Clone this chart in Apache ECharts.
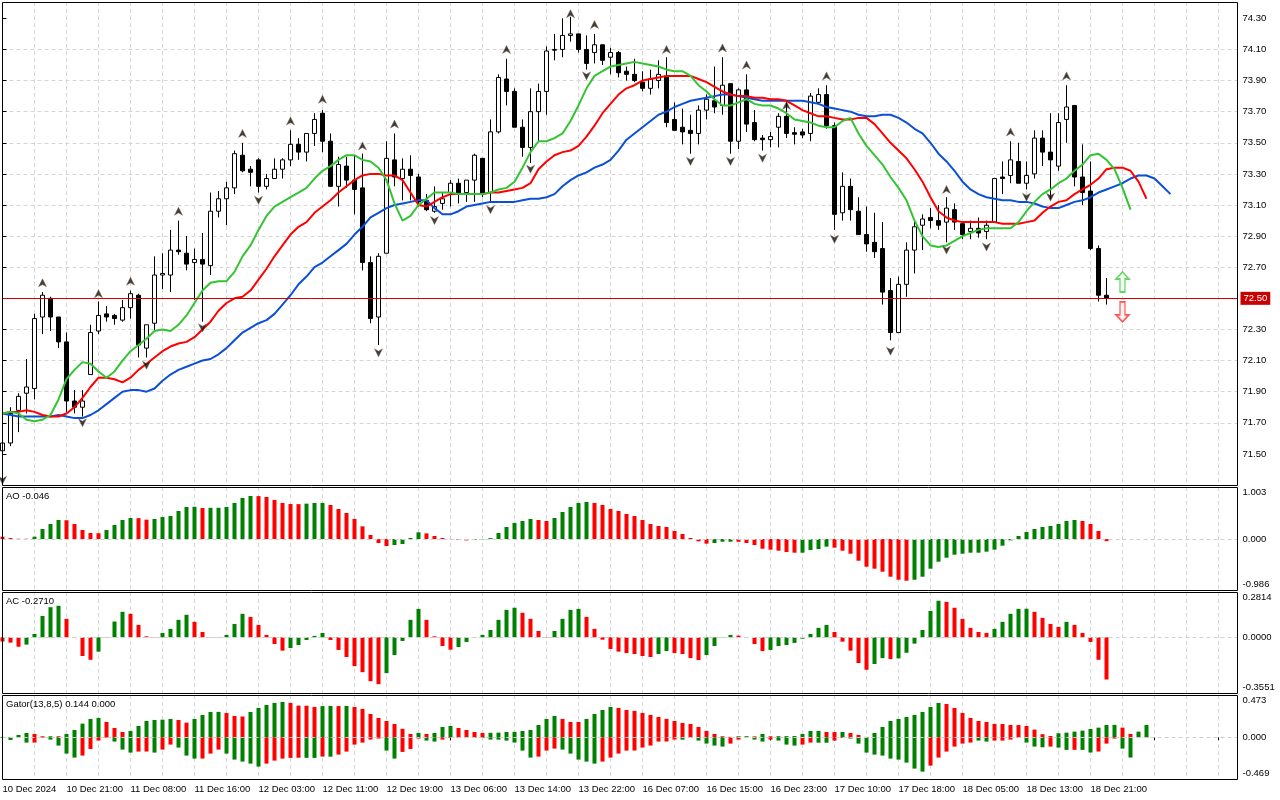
<!DOCTYPE html>
<html><head><meta charset="utf-8">
<script src="https://cdn.jsdelivr.net/npm/echarts/dist/echarts.min.js"></script>
<style>html,body{margin:0;padding:0;background:#fff}#c{width:1280px;height:800px}</style>
</head><body><div id="c"></div>
<script>
const timeLabels = ["10 Dec 2024","10 Dec 21:00","11 Dec 08:00","11 Dec 16:00","12 Dec 03:00","12 Dec 11:00","12 Dec 19:00","13 Dec 06:00","13 Dec 14:00","13 Dec 22:00","16 Dec 07:00","16 Dec 15:00","16 Dec 23:00","17 Dec 10:00","17 Dec 18:00","18 Dec 05:00","18 Dec 13:00","18 Dec 21:00"];
const priceTicks = [71.5,71.7,71.9,72.1,72.3,72.5,72.7,72.9,73.1,73.3,73.5,73.7,73.9,74.1,74.3];
const priceLabels = [71.5,71.7,71.9,72.1,72.3,72.7,72.9,73.1,73.3,73.5,73.7,73.9,74.1,74.3];
const lastPrice = 72.50;
// [open, close, low, high]
const ohlc = [
[71.52,71.57,71.49,71.58],[71.57,71.76,71.55,71.80],[71.78,71.87,71.64,71.89],[71.89,71.93,71.76,72.11],[71.92,72.37,71.85,72.40],
[72.38,72.52,72.27,72.54],[72.50,72.38,72.29,72.51],[72.38,72.22,72.18,72.38],[72.22,71.84,71.77,72.28],[71.84,71.80,71.76,71.91],
[71.80,71.84,71.74,71.91],[72.01,72.28,72.01,72.33],[72.29,72.39,72.27,72.48],[72.40,72.38,72.35,72.45],[72.39,72.37,72.33,72.40],
[72.36,72.44,72.35,72.49],[72.44,72.53,72.37,72.55],[72.52,72.20,72.12,72.53],[72.18,72.33,72.12,72.33],[72.34,72.65,72.29,72.77],
[72.65,72.66,72.56,72.79],[72.65,72.81,72.54,72.94],[72.81,72.80,72.78,73.00],[72.79,72.72,72.68,72.90],[72.73,72.75,72.49,72.82],
[72.75,72.72,72.35,72.92],[72.71,73.06,72.65,73.18],[73.06,73.14,73.02,73.19],[73.14,73.21,72.97,73.25],[73.21,73.43,73.17,73.45],
[73.42,73.32,73.31,73.50],[73.33,73.31,73.22,73.35],[73.39,73.22,73.18,73.40],[73.22,73.27,73.20,73.30],[73.27,73.33,73.27,73.40],
[73.33,73.39,73.27,73.40],[73.39,73.49,73.35,73.58],[73.49,73.44,73.39,73.53],[73.44,73.56,73.38,73.56],[73.56,73.65,73.48,73.69],
[73.69,73.51,73.44,73.71],[73.51,73.22,73.22,73.56],[73.22,73.36,73.09,73.41],[73.35,73.26,73.21,73.41],[73.26,73.20,73.04,73.42],
[73.21,72.73,72.68,73.43],[72.73,72.37,72.34,72.77],[72.38,72.77,72.20,72.79],[72.79,73.40,72.79,73.51],[73.39,73.28,73.22,73.56],
[73.27,73.33,73.13,73.40],[73.33,73.29,73.13,73.42],[73.28,73.12,73.09,73.30],[73.13,73.07,73.06,73.17],[73.06,73.09,73.05,73.22],
[73.11,73.14,73.07,73.18],[73.18,73.24,73.09,73.26],[73.24,73.17,73.11,73.27],[73.18,73.26,73.12,73.26],[73.26,73.42,73.12,73.43],
[73.40,73.17,73.15,73.40],[73.18,73.57,73.12,73.65],[73.57,73.92,73.56,73.94],[73.91,73.83,73.74,74.04],[73.83,73.60,73.60,73.85],
[73.60,73.47,73.41,73.65],[73.47,73.70,73.37,73.85],[73.70,73.83,73.51,73.88],[73.83,74.09,73.68,74.12],[74.095,74.10,74.03,74.20],
[74.10,74.19,74.05,74.30],[74.19,74.20,74.15,74.31],[74.20,74.10,74.08,74.20],[74.10,74.01,73.97,74.19],[74.08,74.13,74.01,74.20],
[74.13,74.03,74.00,74.13],[74.05,74.08,73.94,74.11],[74.08,73.95,73.92,74.09],[73.96,73.94,73.90,73.99],[73.94,73.90,73.89,74.04],
[73.89,73.85,73.83,73.96],[73.85,73.91,73.81,73.97],[73.90,73.94,73.85,74.03],[73.93,73.63,73.60,74.05],[73.65,73.58,73.58,73.76],
[73.60,73.57,73.49,73.72],[73.58,73.56,73.43,73.68],[73.56,73.71,73.49,73.74],[73.71,73.78,73.65,73.81],[73.77,73.73,73.69,73.99],
[73.74,73.87,73.68,74.05],[73.88,73.51,73.43,73.88],[73.51,73.84,73.46,73.85],[73.84,73.62,73.57,73.94],[73.63,73.52,73.51,73.71],
[73.53,73.52,73.45,73.55],[73.52,73.54,73.47,73.57],[73.60,73.67,73.47,73.69],[73.67,73.56,73.53,73.77],[73.565,73.555,73.49,73.60],
[73.57,73.55,73.53,73.59],[73.56,73.80,73.51,73.82],[73.76,73.81,73.75,73.85],[73.81,73.61,73.59,73.87],[73.61,73.04,72.94,73.63],
[73.05,73.22,73.00,73.31],[73.22,73.07,73.00,73.27],[73.06,72.91,72.91,73.15],[72.91,72.85,72.80,73.09],[72.86,72.80,72.76,73.05],
[72.82,72.54,72.46,72.99],[72.55,72.28,72.23,72.63],[72.28,72.59,72.28,72.64],[72.59,72.81,72.51,72.86],[72.81,72.96,72.66,73.00],
[72.97,73.01,72.81,73.04],[73.02,73.00,72.95,73.08],[73.00,72.97,72.94,73.10],[72.99,73.08,72.86,73.15],[73.07,72.99,72.94,73.11],
[72.98,72.91,72.88,72.99],[72.93,72.95,72.88,73.00],[72.95,72.92,72.89,73.02],[72.93,72.97,72.88,73.00],[72.99,73.27,72.99,73.27],
[73.28,73.27,73.17,73.38],[73.29,73.39,73.24,73.51],[73.38,73.24,73.24,73.50],[73.24,73.29,73.20,73.38],[73.30,73.53,73.27,73.58],
[73.53,73.44,73.35,73.58],[73.44,73.39,73.14,73.69],[73.35,73.63,73.32,73.69],[73.65,73.73,73.50,73.87],[73.74,73.28,73.22,73.74],
[73.28,73.18,73.10,73.49],[73.19,72.82,72.81,73.38],[72.82,72.52,72.48,72.84],[72.52,72.50,72.46,72.63]
];
const jaw = [71.76,71.75,71.74,71.74,71.74,71.74,71.74,71.75,71.74,71.73,71.73,71.75,71.78,71.82,71.86,71.90,71.91,71.91,71.90,71.92,71.97,72.01,72.04,72.06,72.08,72.10,72.11,72.14,72.18,72.23,72.28,72.31,72.34,72.36,72.40,72.46,72.52,72.59,72.64,72.70,
72.73,72.77,72.81,72.85,72.91,72.96,73.02,73.05,73.08,73.10,73.11,73.12,73.13,73.13,73.08,73.04,73.04,73.06,73.09,73.10,73.11,73.12,73.12,73.12,73.12,73.13,73.14,73.14,73.15,73.17,73.22,73.26,73.29,73.31,73.34,73.36,73.39,73.45,73.52,
73.56,73.60,73.64,73.68,73.70,73.73,73.75,73.77,73.78,73.79,73.80,73.81,73.81,73.80,73.79,73.78,73.77,73.77,73.77,73.77,73.77,73.77,73.76,73.75,73.73,73.72,73.71,73.70,73.68,73.67,73.67,73.68,73.68,73.66,73.63,73.59,73.56,73.50,73.43,
73.38,73.32,73.25,73.20,73.17,73.15,73.14,73.13,73.13,73.12,73.12,73.11,73.09,73.08,73.08,73.10,73.12,73.13,73.15,73.18,73.20,73.22,73.24,73.27,73.29,73.29,73.27,73.22,73.17];
const teeth = [71.76,71.77,71.77,71.78,71.77,71.75,71.74,71.74,71.76,71.80,71.86,71.93,71.99,71.99,71.98,71.96,71.99,72.04,72.08,72.12,72.16,72.19,72.21,72.22,72.25,72.30,72.35,72.42,72.47,72.50,72.51,72.55,72.62,72.69,72.77,72.84,72.91,72.96,72.99,73.05,
73.09,73.13,73.18,73.22,73.26,73.29,73.30,73.30,73.29,73.29,73.26,73.18,73.10,73.09,73.12,73.15,73.17,73.17,73.17,73.17,73.17,73.18,73.18,73.19,73.20,73.21,73.24,73.33,73.38,73.42,73.44,73.45,73.48,73.54,73.61,73.69,73.75,73.81,73.85,
73.87,73.90,73.91,73.92,73.93,73.93,73.93,73.93,73.91,73.89,73.86,73.83,73.81,73.80,73.80,73.79,73.79,73.78,73.78,73.77,73.74,73.71,73.69,73.67,73.67,73.66,73.65,73.65,73.66,73.66,73.62,73.56,73.50,73.45,73.40,73.33,73.25,73.15,73.06,
73.02,73.00,72.99,72.99,72.99,72.99,72.99,72.98,72.98,72.98,72.99,73.00,73.05,73.09,73.12,73.13,73.17,73.20,73.23,73.27,73.33,73.34,73.34,73.32,73.25,73.14];
const lips = [71.76,71.77,71.76,71.72,71.71,71.72,71.75,71.85,71.98,72.04,72.09,72.08,72.03,71.99,72.03,72.10,72.16,72.20,72.24,72.29,72.30,72.29,72.33,72.39,72.47,72.55,72.60,72.61,72.61,72.67,72.77,72.84,72.94,73.03,73.09,73.12,73.15,73.18,73.21,73.27,
73.32,73.35,73.39,73.42,73.42,73.39,73.38,73.34,73.26,73.11,73.00,73.03,73.10,73.14,73.18,73.18,73.18,73.17,73.17,73.17,73.17,73.18,73.20,73.21,73.25,73.34,73.44,73.51,73.51,73.53,73.56,73.64,73.74,73.85,73.93,73.96,73.99,74.00,74.01,
74.02,74.01,74.00,73.99,73.97,73.96,73.96,73.93,73.87,73.83,73.78,73.74,73.74,73.76,73.78,73.75,73.74,73.74,73.72,73.69,73.65,73.64,73.63,73.61,73.60,73.60,73.64,73.66,73.56,73.48,73.42,73.36,73.28,73.21,73.13,73.00,72.90,72.84,72.83,
72.84,72.87,72.90,72.92,72.94,72.95,72.95,72.95,72.95,72.99,73.06,73.12,73.17,73.20,73.24,73.27,73.32,73.36,73.42,73.43,73.39,73.33,73.21,73.07];
const fractalUp = [[5,72.60],[12,72.53],[16,72.61],[22,73.06],[30,73.56],[36,73.64],[40,73.78],[45,73.48],[49,73.62],[63,74.10],[71,74.33],[74,74.26],[83,74.10],[90,74.11],[93,74.00],[98,73.74],[103,73.93],[118,73.20],[126,73.57],[133,73.93]];
const fractalDown = [[0,71.33],[10,71.70],[18,72.07],[25,72.31],[32,73.13],[47,72.15],[54,73.00],[61,73.07],[66,73.33],[73,73.93],[86,73.38],[91,73.38],[95,73.40],[104,72.88],[111,72.16],[118,72.81],[123,72.83],[128,73.15],[131,73.15]];
const signalUp = [[140,72.605]];
const signalDown = [[140,72.413]];
const aoValues = [0.05,0.02,0.005,0.005,0.05,0.216,0.324,0.410,0.405,0.324,0.194,0.129,0.125,0.194,0.302,0.410,0.453,0.450,0.417,0.432,
0.475,0.496,0.604,0.691,0.695,0.669,0.672,0.673,0.691,0.777,0.885,0.928,0.925,0.906,0.842,0.777,0.755,0.752,0.762,0.777,
0.778,0.734,0.647,0.561,0.432,0.273,0.086,-0.086,-0.151,-0.129,-0.108,0.022,0.144,0.122,0.065,0.022,0.003,-0.02,-0.03,-0.02,
-0.007,0.02,0.129,0.259,0.345,0.388,0.432,0.41,0.388,0.453,0.583,0.691,0.777,0.799,0.777,0.734,0.647,0.604,0.540,0.496,
0.410,0.324,0.281,0.259,0.173,0.108,0.022,-0.05,-0.10,-0.086,-0.058,-0.058,-0.06,-0.086,-0.129,-0.209,-0.230,-0.252,-0.281,-0.295,
-0.295,-0.237,-0.216,-0.165,-0.187,-0.252,-0.317,-0.468,-0.597,-0.640,-0.705,-0.813,-0.878,-0.899,-0.878,-0.813,-0.640,-0.489,-0.403,-0.338,
-0.317,-0.295,-0.295,-0.273,-0.230,-0.144,-0.029,0.065,0.151,0.216,0.259,0.281,0.324,0.388,0.410,0.388,0.324,0.173,-0.046];
const aoColors = "rrrrggggrr"+"rrrggggrrg"+"gggggrgggg"+"ggrrrrrrgg"+"grrrrrrrrg"+"gggrrrrrrg"+"gggggggrrg"+"ggggrrrrrr"+"rrrrrrrrrg"+"ggrrrrrrrr"+"ggggrrrrrr"+"rrrrgggggg"+"gggggggggg"+"gggggrrrr";
const acValues = [-0.03,-0.038,-0.067,-0.052,0.024,0.152,0.214,0.224,0.131,0.002,-0.133,-0.160,-0.102,0.002,0.112,0.181,0.167,0.088,0.007,0.002,
0.031,0.060,0.124,0.160,0.110,0.038,0.002,0.002,0.017,0.095,0.167,0.145,0.088,0.017,-0.048,-0.095,-0.076,-0.055,-0.019,0.010,
0.031,-0.019,-0.090,-0.140,-0.205,-0.248,-0.312,-0.333,-0.255,-0.126,-0.026,0.124,0.202,0.124,0.007,-0.062,-0.088,-0.069,-0.033,-0.002,
0.017,0.052,0.124,0.195,0.210,0.174,0.131,0.045,0.002,0.045,0.131,0.195,0.202,0.145,0.060,-0.017,-0.083,-0.102,-0.112,-0.119,
-0.133,-0.140,-0.119,-0.098,-0.112,-0.119,-0.148,-0.162,-0.126,-0.062,-0.002,0.017,0.012,0.002,-0.048,-0.098,-0.090,-0.062,-0.055,-0.040,
-0.010,0.024,0.067,0.088,0.038,-0.031,-0.095,-0.183,-0.231,-0.190,-0.148,-0.155,-0.150,-0.110,-0.045,0.052,0.188,0.260,0.252,0.210,
0.131,0.067,0.038,0.031,0.060,0.110,0.167,0.202,0.203,0.181,0.138,0.095,0.074,0.110,0.088,0.031,-0.033,-0.160,-0.300];
const acColors = "rrrgggggrr"+"rrggggrrrr"+"ggggrrrrgg"+"grrrrrgggg"+"grrrrrrrgg"+"gggrrrrggg"+"gggggrrrrg"+"gggrrrrrrr"+"rrggrrrrgg"+"ggrrrrgggg"+"ggggrrrrrg"+"grggggggrr"+"rrrrgggggr"+"rrrgrrrrr";
const gatorUpper = [0.005,0.003,0.030,0.056,0.043,0.013,0.013,0.013,0.043,0.095,0.177,0.238,0.251,0.199,0.121,0.069,0.082,0.147,0.212,0.225,
0.228,0.238,0.225,0.190,0.238,0.290,0.329,0.330,0.316,0.277,0.270,0.329,0.381,0.420,0.446,0.459,0.446,0.411,0.410,0.394,
0.405,0.407,0.405,0.407,0.394,0.368,0.303,0.251,0.212,0.173,0.110,0.043,0.056,0.043,0.056,0.134,0.147,0.121,0.095,0.069,
0.056,0.058,0.060,0.069,0.070,0.082,0.095,0.160,0.238,0.277,0.238,0.199,0.198,0.238,0.303,0.355,0.394,0.381,0.355,0.342,
0.316,0.290,0.264,0.238,0.212,0.186,0.173,0.134,0.082,0.043,0.013,0.005,0.013,0.014,0.012,0.043,0.013,0.014,0.015,0.016,
0.043,0.082,0.083,0.069,0.068,0.069,0.056,0.030,0.005,0.056,0.134,0.212,0.238,0.264,0.290,0.329,0.394,0.446,0.433,0.381,
0.316,0.251,0.212,0.199,0.173,0.172,0.160,0.159,0.147,0.100,0.040,0.017,0.052,0.060,0.073,0.086,0.108,0.125,0.160,0.161,
0.125,0.043,0.073,0.160];
const gatorUpperColors = "ggggrrgrgg"+"gggrrrgggg"+"ggrrggggrr"+"rgggggrrrr"+"ggrgrrrrrr"+"rrgrgggrrr"+"rggggggggg"+"rrrggggrrr"+"rrrrrrrrrr"+"rrggrgrggg"+"gggrrgrrrg"+"ggggggggrr"+"rrrrrrrrrr"+"rrgggggggg"+"rrgg";
const gatorLower = [-0.010,-0.035,-0.005,-0.069,-0.069,-0.005,-0.030,-0.108,-0.212,-0.264,-0.238,-0.152,-0.043,-0.005,-0.056,-0.160,-0.199,-0.186,-0.185,-0.199,
-0.160,-0.095,-0.134,-0.238,-0.277,-0.276,-0.212,-0.160,-0.212,-0.290,-0.316,-0.342,-0.381,-0.342,-0.303,-0.277,-0.268,-0.266,-0.267,-0.268,
-0.251,-0.252,-0.225,-0.186,-0.095,-0.069,-0.030,-0.017,-0.173,-0.277,-0.190,-0.152,-0.017,-0.043,-0.056,-0.030,-0.009,-0.005,-0.006,-0.007,
-0.009,-0.030,-0.031,-0.043,-0.069,-0.173,-0.264,-0.251,-0.173,-0.147,-0.160,-0.212,-0.290,-0.316,-0.342,-0.316,-0.264,-0.212,-0.173,-0.172,
-0.134,-0.108,-0.056,-0.055,-0.030,-0.031,-0.009,-0.043,-0.082,-0.108,-0.121,-0.082,-0.030,-0.005,-0.030,-0.056,-0.030,-0.043,-0.095,-0.108,
-0.095,-0.069,-0.070,-0.071,-0.043,-0.009,-0.017,-0.082,-0.199,-0.225,-0.238,-0.277,-0.290,-0.329,-0.407,-0.446,-0.368,-0.264,-0.186,-0.121,
-0.082,-0.069,-0.043,-0.056,-0.043,-0.043,-0.030,-0.005,-0.069,-0.121,-0.130,-0.121,-0.134,-0.164,-0.163,-0.164,-0.198,-0.185,-0.082,-0.017,
-0.147,-0.263,-0.002,-0.004];
const gatorLowerColors = "ggggrrgggg"+"rrrrgggrrg"+"rrgggrrrgg"+"gggrrrrrgg"+"rgrrrrrrgg"+"rrrggrrrgg"+"gggggggrrr"+"gggggrrrrr"+"rrrrrgrggg"+"grrrggrggg"+"rrggrrgggg"+"ggggggrrrr"+"rrggrrrrgg"+"grggrggrrr"+"ggrr";

const GREEN = '#008000', RED = '#ff0000';
const FONT = 'Liberation Sans, Arial, sans-serif';
const dash = {color:'#d6d6d6', type:[4,3], width:1};
function bars(values, colors){
  return values.map((v,i)=>({value:[i,v], itemStyle:{color: colors[i]==='g'?GREEN:RED}}));
}
const grids = [
  {left:2.5, width:1235, top:2, height:483},
  {left:2.5, width:1235, top:487, height:103},
  {left:2.5, width:1235, top:592, height:101},
  {left:2.5, width:1235, top:695, height:84}
].map(g=>Object.assign(g,{show:false, containLabel:false, outerBoundsMode:'none'}));

const frames = [[2.5,2.5,1235,483],[2.5,487.5,1235,103],[2.5,592.5,1235,101],[2.5,695.5,1235,84]].map(r=>({
  type:'rect', z:100, silent:true, shape:{x:r[0], y:r[1], width:r[2], height:r[3]},
  style:{fill:null, stroke:'#000', lineWidth:1}
}));

const xAxes = [0,1,2,3].map(k=>({
  type:'value', gridIndex:k, min:0, max:154.375, interval:8,
  axisLine:{show:false},
  axisTick:{show:k===3, length:3, lineStyle:{color:'#000'}},
  axisLabel:{show:k===3, color:'#000', fontSize:9.5, fontFamily:FONT, align:'left', margin:5,
    formatter:v=>{const t=timeLabels[Math.round(v/8)]; return (v%8===0 && t)?t:'';}},
  splitLine:{show:true, showMinLine:false, showMaxLine:false, lineStyle:dash},
  minorTick:{show:false, splitNumber:2},
  minorSplitLine:{show:true, lineStyle:dash}
}));

function indAxis(k,min,max,labels,dec){
  return {type:'value', gridIndex:k, position:'right', min:min, max:max,
    axisLine:{show:false},
    axisTick:{show:false},
    axisLabel:{customValues:labels, color:'#000', fontSize:9.5, fontFamily:FONT, margin:5, formatter:v=>v.toFixed(dec)},
    splitLine:{show:false}, minorSplitLine:{show:false}, minorTick:{show:false}};
}
const yAxes = [
  {type:'value', gridIndex:0, position:'right', min:71.30, max:74.405, interval:0.2,
    axisLine:{show:false},
    axisTick:{show:true, length:4, lineStyle:{color:'#000'}, customValues:priceTicks},
    axisLabel:{customValues:priceLabels, color:'#000', fontSize:9.5, fontFamily:FONT, margin:5, formatter:v=>v.toFixed(2)},
    splitLine:{show:true, showMinLine:false, showMaxLine:false, lineStyle:dash}},
  indAxis(1,-1.099,1.121,[1.003,0,-0.986],3),
  indAxis(2,-0.396,0.322,[0.2814,0,-0.3551],4),
  indAxis(3,-0.542,0.549,[0.473,0,-0.469],3)
];
const zeroLine = {silent:true, symbol:['none','none'], animation:false, label:{show:false},
  lineStyle:{color:'#d0d0d0', type:[4,3], width:1}, data:[{yAxis:0}]};

const upArrowPath = 'path://M5 0 L10 10 L5 7 L0 10 Z';
const downArrowPath = 'path://M0 0 L5 3 L10 0 L5 10 Z';
const blockUp = 'path://M6.5 0 L13 7 L9 7 L9 20 L4 20 L4 7 L0 7 Z';
const blockDown = 'path://M4 0 L9 0 L9 13 L13 13 L6.5 20 L0 13 L4 13 Z';

const option = {
  animation:false,
  backgroundColor:'#fff',
  grid:grids, xAxis:xAxes, yAxis:yAxes,
  graphic:frames.concat([
    {type:'text', left:6, top:491, z:101, style:{text:'AO -0.046', fill:'#000', font:'9.5px '+FONT}},
    {type:'text', left:6, top:596, z:101, style:{text:'AC -0.2710', fill:'#000', font:'9.5px '+FONT}},
    {type:'text', left:6, top:699, z:101, style:{text:'Gator(13,8,5) 0.144 0.000', fill:'#000', font:'9.5px '+FONT}}
  ]),
  series:[
    {type:'candlestick', xAxisIndex:0, yAxisIndex:0, z:2, barWidth:4,
      data: ohlc.map((r,i)=>[i,r[0],r[1],r[2],r[3]]), encode:{x:0, y:[1,2,3,4]},
      itemStyle:{color:'#ffffff', color0:'#000000', borderColor:'#000000', borderColor0:'#000000', borderWidth:1},
      markLine:{silent:true, symbol:['none','none'], animation:false,
        lineStyle:{color:'#d40000', width:1, type:'solid'},
        label:{show:true, position:'end', distance:3, formatter:p=>p.value.toFixed(2), color:'#fff',
          backgroundColor:'#c80000', padding:[2,3,1,3], fontSize:9.5, fontFamily:FONT},
        data:[{yAxis:lastPrice}]}},
    {type:'line', name:'Jaw', xAxisIndex:0, yAxisIndex:0, z:3, showSymbol:false, data:jaw.map((v,i)=>[i,v]), lineStyle:{color:'#0b4fd6', width:2}, itemStyle:{color:'#0b4fd6'}},
    {type:'line', name:'Teeth', xAxisIndex:0, yAxisIndex:0, z:3, showSymbol:false, data:teeth.map((v,i)=>[i,v]), lineStyle:{color:'#ff0000', width:2}, itemStyle:{color:'#ff0000'}},
    {type:'line', name:'Lips', xAxisIndex:0, yAxisIndex:0, z:3, showSymbol:false, data:lips.map((v,i)=>[i,v]), lineStyle:{color:'#33c433', width:2}, itemStyle:{color:'#33c433'}},
    {type:'scatter', xAxisIndex:0, yAxisIndex:0, z:4, symbol:upArrowPath, symbolSize:[8,8], data:fractalUp, itemStyle:{color:'#0d0d0d', borderColor:'#7a5a3a', borderWidth:0.5}},
    {type:'scatter', xAxisIndex:0, yAxisIndex:0, z:4, symbol:downArrowPath, symbolSize:[8,8], data:fractalDown, itemStyle:{color:'#0d0d0d', borderColor:'#7a5a3a', borderWidth:0.5}},
    {type:'scatter', xAxisIndex:0, yAxisIndex:0, z:5, symbol:blockUp, symbolSize:[13,20], data:signalUp, itemStyle:{color:'#f2fff2', borderColor:'#3ccc3c', borderWidth:1.5}},
    {type:'scatter', xAxisIndex:0, yAxisIndex:0, z:5, symbol:blockDown, symbolSize:[13,20], data:signalDown, itemStyle:{color:'#fff2f2', borderColor:'#ff2a2a', borderWidth:1.5}},
    {type:'bar', xAxisIndex:1, yAxisIndex:1, barWidth:4, data:bars(aoValues, aoColors), markLine:zeroLine},
    {type:'bar', xAxisIndex:2, yAxisIndex:2, barWidth:4, data:bars(acValues, acColors), markLine:zeroLine},
    {type:'bar', xAxisIndex:3, yAxisIndex:3, barWidth:4, barGap:'-100%', data:bars(gatorUpper, gatorUpperColors), markLine:zeroLine},
    {type:'bar', xAxisIndex:3, yAxisIndex:3, barWidth:4, barGap:'-100%', data:bars(gatorLower, gatorLowerColors)}
  ]
};
const chart = echarts.init(document.getElementById('c'), null, {renderer:'canvas'});
chart.setOption(option);
</script>
</body></html>
